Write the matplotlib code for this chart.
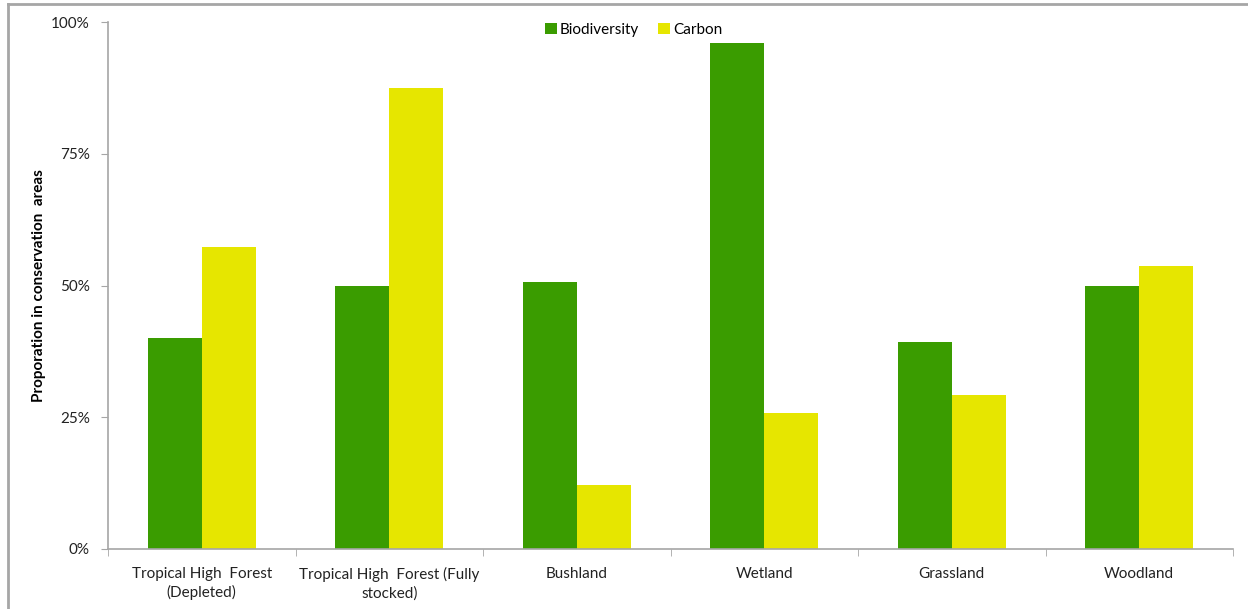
import matplotlib.pyplot as plt
import matplotlib.lines as mlines
from matplotlib.ticker import FixedLocator, NullFormatter
import numpy as np

plt.rcParams['font.family'] = ['Lato', 'DejaVu Sans']

categories = ['Tropical High  Forest\n(Depleted)', 'Tropical High  Forest (Fully\nstocked)',
              'Bushland', 'Wetland', 'Grassland', 'Woodland']
biodiversity = [40.0, 50.0, 50.7, 96.0, 39.3, 50.0]
carbon = [57.3, 87.5, 12.1, 25.8, 29.2, 53.7]
yticks = [0, 25, 50, 75, 100]
ytick_labels = ['0%', '25%', '50%', '75%', '100%']

green = '#3A9C00'
yellow = '#E6E600'
axis_grey = '#A6A6A6'

fig = plt.figure(figsize=(12.48, 6.09), dpi=100)
ax = fig.add_axes([108 / 1248, 1 - 549 / 609, (1233 - 108) / 1248, (549 - 22) / 609])

x = np.arange(len(categories))
w = 0.288
ax.bar(x - w / 2, biodiversity, w, color=green, label='Biodiversity')
ax.bar(x + w / 2, carbon, w, color=yellow, label='Carbon')

ax.set_xlim(-0.5, len(categories) - 0.5)
ax.set_ylim(0, 100)
ax.set_yticks(yticks)
ax.set_yticklabels(ytick_labels, fontsize=11, color='#222222')

# category labels centred, ticks drawn between groups
ax.set_xticks(x)
ax.set_xticklabels(categories, fontsize=11, color='#222222', linespacing=1.35)
ax.tick_params(axis='x', length=0, pad=13)
ax.xaxis.set_minor_locator(FixedLocator(np.arange(-0.5, len(categories), 1)))
ax.xaxis.set_minor_formatter(NullFormatter())
ax.tick_params(axis='x', which='minor', length=5, color=axis_grey, direction='out')
ax.tick_params(axis='y', length=5, color=axis_grey, pad=8)

for side in ['top', 'right']:
    ax.spines[side].set_visible(False)
for side in ['left', 'bottom']:
    ax.spines[side].set_color(axis_grey)
    ax.spines[side].set_linewidth(1.2)

ax.set_ylabel('Proporation in conservation  areas', fontsize=11, fontweight='bold', labelpad=4)

ax.legend(loc='upper center', bbox_to_anchor=(0.467, 1.025), ncol=2, frameon=False,
          fontsize=11, handlelength=0.8, handleheight=0.8, handletextpad=0.2,
          columnspacing=1.2)

# outer chart frame
fig.add_artist(mlines.Line2D([8 / 1248, 8 / 1248], [0, 1 - 4 / 609], transform=fig.transFigure,
                             color=axis_grey, lw=2))
fig.add_artist(mlines.Line2D([8 / 1248, 1], [1 - 4 / 609, 1 - 4 / 609], transform=fig.transFigure,
                             color=axis_grey, lw=2))

fig.savefig('out.png', dpi=100)
